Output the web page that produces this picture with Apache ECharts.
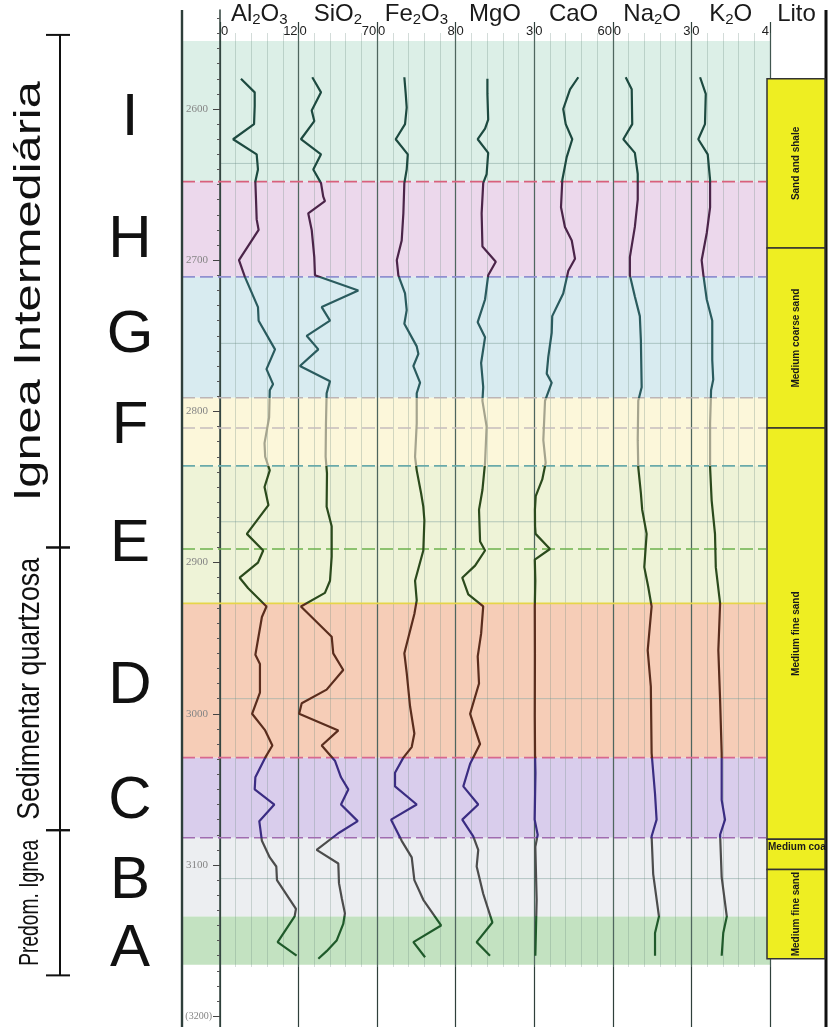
<!DOCTYPE html>
<html><head><meta charset="utf-8">
<script src="https://cdn.jsdelivr.net/npm/echarts@6/dist/echarts.min.js"></script>
<style>html,body{margin:0;padding:0;background:#fff}#c{width:829px;height:1027px}</style>
</head><body><div id="c"></div>
<script>
// ================= DATA =================
const oxideNames = ['Al2O3','SiO2','Fe2O3','MgO','CaO','Na2O','K2O'];
const oxideMax   = [12, 70, 8, 3, 60, 3, 4];

// [depth (m), value]
const al2o3 = [[2580,3.2],[2589,5.3],[2598,5.3],[2610,5.2],[2620,2.0],[2630,5.6],[2640,5.8],[2648,5.4],[2660,5.5],[2673,5.6],[2680,5.9],[2700,2.9],[2711,3.8],[2731,5.8],[2740,5.9],[2759,8.4],[2772,7.1],[2782,8.1],[2786,7.6],[2804,7.5],[2821,6.8],[2830,6.9],[2839,7.6],[2850,6.8],[2862,7.4],[2881,4.1],[2892,6.6],[2900,5.8],[2910,3.0],[2917,4.3],[2929,7.1],[2936,6.4],[2951,5.8],[2961,5.4],[2967,6.1],[2986,6.1],[3000,4.9],[3011,6.9],[3021,8.0],[3029,6.9],[3042,5.4],[3050,5.3],[3060,8.3],[3071,6.0],[3084,6.4],[3095,7.6],[3101,8.6],[3110,8.7],[3129,11.6],[3134,11.4],[3151,8.8],[3160,11.7]];
const sio2 = [[2579,12.2],[2589,20.0],[2601,11.7],[2608,14.0],[2620,2.1],[2630,20.0],[2640,13.1],[2649,20.0],[2658,22.0],[2661,23.5],[2669,8.6],[2680,11.7],[2698,14.0],[2710,14.6],[2720,53.2],[2731,20.6],[2740,28.0],[2750,7.2],[2759,17.6],[2770,1.2],[2780,28.0],[2788,25.0],[2808,24.4],[2830,24.1],[2841,25.3],[2863,25.0],[2876,29.5],[2896,29.5],[2912,28.0],[2920,23.5],[2929,2.1],[2949,29.5],[2960,30.9],[2971,39.8],[2984,25.0],[2993,2.8],[3000,0.5],[3011,35.4],[3021,20.6],[3031,32.4],[3042,37.8],[3050,44.3],[3060,37.8],[3071,52.7],[3079,35.4],[3090,16.1],[3099,35.4],[3112,36.0],[3122,38.5],[3132,41.3],[3139,39.8],[3150,33.9],[3157,25.0],[3162,17.6]];
const fe2o3 = [[2579,2.77],[2590,2.91],[2599,3.01],[2610,2.84],[2620,1.89],[2630,3.12],[2640,3.01],[2649,2.77],[2669,2.67],[2687,2.5],[2700,2.0],[2710,2.16],[2722,2.84],[2733,3.01],[2742,2.77],[2757,4.03],[2762,4.2],[2770,3.69],[2781,4.37],[2788,4.03],[2808,4.03],[2830,3.86],[2839,4.03],[2854,4.47],[2863,4.7],[2872,4.81],[2892,4.7],[2912,3.86],[2925,4.03],[2934,3.79],[2951,3.12],[2960,2.77],[2973,3.01],[2995,3.35],[3013,3.79],[3022,3.52],[3029,2.67],[3039,1.82],[3048,1.82],[3060,4.03],[3070,1.42],[3084,2.5],[3095,3.52],[3110,3.79],[3123,4.7],[3140,6.51],[3151,3.69],[3161,4.88]];
const mgo = [[2580,1.21],[2590,1.21],[2607,1.24],[2613,1.12],[2620,0.84],[2629,1.24],[2643,1.18],[2649,1.05],[2669,0.99],[2691,1.02],[2701,1.53],[2710,1.24],[2726,1.12],[2741,0.84],[2751,1.12],[2768,0.97],[2784,1.05],[2793,1.02],[2810,1.18],[2834,1.12],[2852,1.02],[2865,0.89],[2886,0.93],[2892,1.12],[2902,0.74],[2910,0.25],[2921,0.48],[2929,1.05],[2947,0.97],[2962,0.84],[2980,0.89],[3000,0.55],[3020,0.93],[3033,0.55],[3048,0.29],[3060,0.86],[3070,0.25],[3081,0.67],[3090,0.86],[3101,0.80],[3119,1.05],[3138,1.40],[3151,0.80],[3160,1.31]];
const cao = [[2579,33.6],[2587,27.3],[2600,22.1],[2610,24.0],[2620,29.0],[2632,24.7],[2647,21.4],[2665,20.4],[2678,23.4],[2687,28.6],[2699,31.1],[2707,26.0],[2722,22.1],[2737,13.7],[2748,13.3],[2764,10.7],[2775,9.5],[2781,13.3],[2793,8.2],[2819,6.9],[2834,8.7],[2845,6.1],[2856,1.1],[2865,0.5],[2876,0.6],[2881,1.0],[2891,12.0],[2898,0.4],[2912,0.8],[2929,0.4],[2960,0.5],[3002,0.4],[3028,0.6],[3039,0.9],[3070,0.3],[3080,2.6],[3088,0.8],[3123,1.8],[3160,0.8]];
const na2o = [[2579,0.49],[2587,0.72],[2610,0.74],[2620,0.40],[2629,0.84],[2643,0.95],[2660,0.95],[2678,0.84],[2698,0.65],[2710,0.65],[2724,0.84],[2737,1.03],[2753,1.07],[2784,1.10],[2793,0.97],[2819,0.95],[2837,0.97],[2854,1.07],[2865,1.12],[2881,1.29],[2903,1.20],[2916,1.35],[2929,1.48],[2958,1.33],[2982,1.45],[3026,1.48],[3053,1.61],[3070,1.67],[3081,1.48],[3106,1.54],[3134,1.76],[3145,1.61],[3160,1.61]];
const k2o = [[2579,0.44],[2590,0.73],[2610,0.69],[2620,0.35],[2630,0.83],[2647,0.95],[2665,0.95],[2682,0.78],[2700,0.52],[2710,0.61],[2726,0.78],[2740,1.06],[2766,1.06],[2779,1.11],[2786,1.0],[2808,0.95],[2837,0.95],[2859,1.03],[2881,1.20],[2903,1.24],[2927,1.46],[2958,1.37],[2991,1.46],[3026,1.54],[3057,1.54],[3070,1.71],[3080,1.46],[3108,1.54],[3134,1.80],[3145,1.62],[3160,1.54]];

// zones
const zoneNames = ['I','H','G','F','E','D','C','B','A'];
const zoneTop   = [2555, 2648, 2711, 2791, 2836, 2927, 3029, 3082, 3134];
const zoneBase  = [2648, 2711, 2791, 2836, 2927, 3029, 3082, 3134, 3166];
const zoneLabelDepth = [2606, 2687, 2750, 2810, 2888, 2982, 3058, 3111, 3156];

// boundary lines
const boundaryDepths = [2648, 2711, 2791, 2811, 2836, 2891, 2927, 3029, 3082];
// light reference lines
const refLineDepths = [2636, 2755, 2873, 2990, 3109];

// depth axis labels
const depthLabels = [2600, 2700, 2800, 2900, 3000, 3100, 3200];

// lithology
const litoTop    = [2580, 2692, 2811, 3083, 3103];
const litoBase   = [2692, 2811, 3083, 3103, 3162];
const litoLabels = ['Sand and shale', 'Medium coarse sand', 'Medium fine sand', 'Medium coa', 'Medium fine sand'];

// rock groups (left bracket)
const groupNames = ['Ignea Intermediária', 'Sedimentar quartzosa', 'Predom. Ignea'];
const groupTop   = [2551, 2890, 3077];
const groupBase  = [2890, 3077, 3173];

// ================= STYLE / LAYOUT =================
const FONT = "'Liberation Sans', Arial, sans-serif";
const SERIF = "'Liberation Serif', 'DejaVu Serif', serif";
const zoneColors  = ['#dcefe7','#ecd8ec','#d8ebf0','#fcf7da','#eef3d7','#f6cdb7','#d9cdec','#eceef1','#c3e2c1'];
const curveColors = ['#1d4a40','#4b2449','#2a5b5e','#a5a48e','#2b4a1c','#5a2d1d','#3a2c82','#4c4c4c','#1f5a2a'];
const boundaryColors = ['#d8607c','#9090d0','#bdb5b5','#c5bdbd','#6aaaaa','#6db24e','#e6d54a','#d86890','#a06cb0'];
const boundaryDashed = [1,1,1,1,1,1,0,1,1];
const groupFont = [36, 31, 28];
const groupLen  = [420, 262, 126];

const PX = 1.512, Y_REF = 109, D_REF = 2600;
const dAt = y => D_REF + (y - Y_REF) / PX;
const CW = 550 / 7, COL_LEFT = 220;
const BAND_X0 = 182, BAND_X1 = 770;

const grids = [], xAxes = [], yAxes = [], series = [];
function addGrid(left, width, top, height) {
  grids.push({left, width, top, height, containLabel:false, outerBoundsMode:'none'});
  return grids.length - 1;
}
function addHiddenX(gi, min, max) { xAxes.push({gridIndex:gi, type:'value', min, max, show:false}); return xAxes.length-1; }
function addHiddenY(gi, top, height) { yAxes.push({gridIndex:gi, type:'value', inverse:true, min:dAt(top), max:dAt(top+height), show:false}); return yAxes.length-1; }

// --- frame grid (pixel x units) ---
const g0 = addGrid(0, 829, 10, 1017);
const x0 = addHiddenX(g0, 0, 829);
const y0 = addHiddenY(g0, 10, 1017);

// --- column divider grid ---
const g1 = addGrid(COL_LEFT, 550, 22, 1005);
xAxes.push({gridIndex:g1, type:'value', min:0, max:7, interval:1, z:3,
  axisLine:{show:false}, axisTick:{show:false}, axisLabel:{show:false},
  splitLine:{show:true, lineStyle:{color:'#2f403b', width:1.2}}});
addHiddenY(g1, 22, 1005);

// --- depth axis grid ---
const g2 = addGrid(COL_LEFT, 10, 10, 1017);
addHiddenX(g2, 0, 1);
const minorTicks = [];
for (let d = 2540; d <= 3200; d += 10) minorTicks.push(d);
yAxes.push({gridIndex:g2, type:'value', inverse:true, position:'left', min:dAt(10), max:dAt(1027), z:4,
  axisLine:{show:true, lineStyle:{color:'#2f403b', width:1.5}},
  axisTick:{show:true, customValues:minorTicks, length:3, lineStyle:{color:'#555', width:1}},
  axisLabel:{show:false}, splitLine:{show:false}});
yAxes.push({gridIndex:g2, type:'value', inverse:true, position:'left', offset:0, min:dAt(10), max:dAt(1027), z:4,
  axisLine:{show:false},
  axisTick:{show:true, customValues:depthLabels, length:7, lineStyle:{color:'#444', width:1}},
  axisLabel:{show:true, customValues:depthLabels, margin:8, fontSize:11, color:'#858585', fontFamily:SERIF,
    formatter: v => v === 3200 ? '{p|(3200)}' : '{n|' + v + '}',
    rich:{n:{fontSize:11, color:'#858585', fontFamily:SERIF, padding:[0,4,0,0]},
          p:{fontSize:10, color:'#858585', fontFamily:SERIF}}},
  splitLine:{show:false}});

// --- header rich names ---
function richName(s) {
  let out = '';
  for (let k = 0; k < s.length; k++) {
    if (/\d/.test(s[k])) { out += (k === s.length-1 ? '{t|' : '{s|') + s[k] + '}'; }
    else { let j = k; while (j < s.length && !/\d/.test(s[j])) j++; out += '{m|' + s.slice(k, j) + '}'; k = j - 1; }
  }
  return out;
}
const nameStyle = {color:'#1a1a1a', fontFamily:FONT, fontSize:24,
  rich:{ m:{fontSize:24, lineHeight:26, fontFamily:FONT, color:'#1a1a1a'},
         s:{fontSize:15, lineHeight:16, verticalAlign:'bottom', fontFamily:FONT, color:'#1a1a1a'},
         t:{fontSize:15, lineHeight:7, verticalAlign:'bottom', fontFamily:FONT, color:'#1a1a1a'} }};

// --- oxide column grids ---
const oxideData = [al2o3, sio2, fe2o3, mgo, cao, na2o, k2o];
const lineSeriesIdx = [];
const COL_TOP = 33, COL_H = 934;
oxideNames.forEach((nm, i) => {
  const gi = addGrid(COL_LEFT + i*CW, CW, COL_TOP, COL_H);
  const m = oxideMax[i];
  const padR = 7.2 * String(m).length + 2;
  xAxes.push({gridIndex:gi, type:'value', position:'top', min:0, max:m, interval:m/5, z:3,
    axisLine:{show:false}, axisTick:{show:false},
    splitLine:{show:true, lineStyle:{color:'rgba(110,140,130,0.3)', width:1}},
    axisLabel:{show:true, customValues:[0, m], margin:-5, fontSize:13, color:'#222', fontFamily:FONT,
      formatter: v => v === 0 ? '{a|0}' : '{b|' + v + '}',
      rich:{a:{fontSize:13, fontFamily:FONT, color:'#222', padding:[0,0,0,9]},
            b:{fontSize:13, fontFamily:FONT, color:'#222', padding:[0,padR,0,0]}}},
    name: richName(nm), nameLocation:'middle', nameGap:6, nameMoveOverlap:false, nameTextStyle:nameStyle});
  const yi = addHiddenY(gi, COL_TOP, COL_H);
  lineSeriesIdx.push(series.length);
  series.push({type:'line', name:nm, xAxisIndex:xAxes.length-1, yAxisIndex:yi, z:6,
    symbol:'none', smooth:false, animation:false, silent:true,
    lineStyle:{width:2.2},
    data: oxideData[i].map(p => [p[1], p[0]])});
});

// --- lito grid ---
const gL = addGrid(767, 59, COL_TOP, COL_H);
xAxes.push({gridIndex:gL, type:'value', position:'top', min:0, max:59, z:3,
  axisLine:{show:false}, axisTick:{show:false}, axisLabel:{show:false}, splitLine:{show:false},
  name:'{m|Lito}', nameLocation:'middle', nameGap:6, nameMoveOverlap:false, nameTextStyle:nameStyle});
const yL = addHiddenY(gL, COL_TOP, COL_H);
series.push({type:'custom', xAxisIndex:xAxes.length-1, yAxisIndex:yL, z:7, silent:true, animation:false,
  data: litoTop.map((t, i) => [t, litoBase[i], i]),
  renderItem: (p, api) => {
    const i = api.value(2);
    const a = api.coord([0, api.value(0)]), b = api.coord([58, api.value(1)]);
    const h = b[1] - a[1];
    const txt = h > 40
      ? {type:'text', x:(a[0]+b[0])/2, y:(a[1]+b[1])/2, rotation:Math.PI/2,
         style:{text:litoLabels[i], font:"bold 10px 'Liberation Sans Narrow', 'Liberation Sans', Arial", fill:'#1a1a1a', align:'center', verticalAlign:'middle'}}
      : {type:'text', x:a[0]+1, y:a[1]+8,
         style:{text:litoLabels[i], font:"bold 10px 'Liberation Sans', Arial", fill:'#1a1a1a', align:'left', verticalAlign:'middle'}};
    return {type:'group', children:[
      {type:'rect', shape:{x:a[0], y:a[1], width:b[0]-a[0], height:h}, style:{fill:'#eeee22', stroke:'#333', lineWidth:1.5}},
      txt]};
  }});

// --- frame series: zones, lines, letters, brackets ---
series.push({type:'custom', xAxisIndex:x0, yAxisIndex:y0, z:0, silent:true, animation:false,
  data: zoneTop.map((t, i) => [t, zoneBase[i], i]),
  renderItem: (p, api) => {
    const a = api.coord([BAND_X0, api.value(0)]), b = api.coord([BAND_X1, api.value(1)]);
    return {type:'rect', shape:{x:a[0], y:a[1], width:b[0]-a[0], height:b[1]-a[1]}, style:{fill:zoneColors[api.value(2)]}};
  }});
series.push({type:'custom', xAxisIndex:x0, yAxisIndex:y0, z:1, silent:true, animation:false,
  data: refLineDepths.map(d => [d]),
  renderItem: (p, api) => {
    const a = api.coord([COL_LEFT, api.value(0)]), b = api.coord([BAND_X1, api.value(0)]);
    return {type:'line', shape:{x1:a[0], y1:a[1], x2:b[0], y2:b[1]}, style:{stroke:'rgba(140,170,165,0.6)', lineWidth:1}};
  }});
series.push({type:'custom', xAxisIndex:x0, yAxisIndex:y0, z:5, silent:true, animation:false,
  data: boundaryDepths.map((d, i) => [d, i]),
  renderItem: (p, api) => {
    const i = api.value(1);
    const a = api.coord([BAND_X0, api.value(0)]), b = api.coord([BAND_X1 - 4, api.value(0)]);
    return {type:'line', shape:{x1:a[0], y1:a[1], x2:b[0], y2:b[1]},
      style:{stroke:boundaryColors[i], lineWidth:1.6, lineDash: boundaryDashed[i] ? [13, 5] : null}};
  }});
series.push({type:'custom', xAxisIndex:x0, yAxisIndex:y0, z:5, silent:true, animation:false,
  data: [[BAND_X0, 2.4, 0], [826, 3, 1]],
  renderItem: (p, api) => {
    const a = api.coord([api.value(0), dAt(10)]), b = api.coord([api.value(0), dAt(1027)]);
    return {type:'line', shape:{x1:a[0], y1:a[1], x2:b[0], y2:b[1]},
      style:{stroke: api.value(2) ? '#111' : '#2e3f3b', lineWidth: api.value(1)}};
  }});
series.push({type:'custom', xAxisIndex:x0, yAxisIndex:y0, z:5, silent:true, animation:false,
  data: zoneLabelDepth.map((d, i) => [d, i]),
  renderItem: (p, api) => {
    const c = api.coord([130, api.value(0)]);
    return {type:'text', x:c[0], y:c[1],
      style:{text:zoneNames[api.value(1)], font:"60px 'Liberation Sans', Arial", fill:'#111', align:'center', verticalAlign:'middle'}};
  }});
const measureCtx = document.createElement('canvas').getContext('2d');
series.push({type:'custom', xAxisIndex:x0, yAxisIndex:y0, z:5, silent:true, animation:false,
  data: groupTop.map((t, i) => [t, groupBase[i], i]),
  renderItem: (p, api) => {
    const i = api.value(2);
    const a = api.coord([60, api.value(0)]), b = api.coord([60, api.value(1)]);
    const ls = {stroke:'#111', lineWidth:2};
    const font = groupFont[i] + "px 'Liberation Sans', Arial";
    measureCtx.font = font;
    const w = measureCtx.measureText(groupNames[i]).width;
    return {type:'group', children:[
      {type:'line', shape:{x1:a[0], y1:a[1], x2:b[0], y2:b[1]}, style:ls},
      {type:'line', shape:{x1:a[0]-14, y1:a[1], x2:a[0]+10, y2:a[1]}, style:ls},
      {type:'line', shape:{x1:b[0]-14, y1:b[1], x2:b[0]+10, y2:b[1]}, style:ls},
      {type:'text', x:30, y:(a[1]+b[1])/2, rotation:Math.PI/2, scaleX: groupLen[i]/w,
        style:{text:groupNames[i], font, fill:'#111', align:'center', verticalAlign:'middle'}}
    ]};
  }});

const visualPieces = zoneTop.map((t, i) => {
  const pc = {color: curveColors[i]};
  if (i > 0) pc.gte = t;
  if (i < zoneTop.length - 1) pc.lt = zoneBase[i];
  return pc;
});

const chart = echarts.init(document.getElementById('c'), null, {renderer:'canvas'});
chart.setOption({
  animation:false,
  backgroundColor:'#ffffff',
  grid: grids, xAxis: xAxes, yAxis: yAxes,
  visualMap: {type:'piecewise', show:false, dimension:1, seriesIndex: lineSeriesIdx, pieces: visualPieces},
  series
});
</script></body></html>
